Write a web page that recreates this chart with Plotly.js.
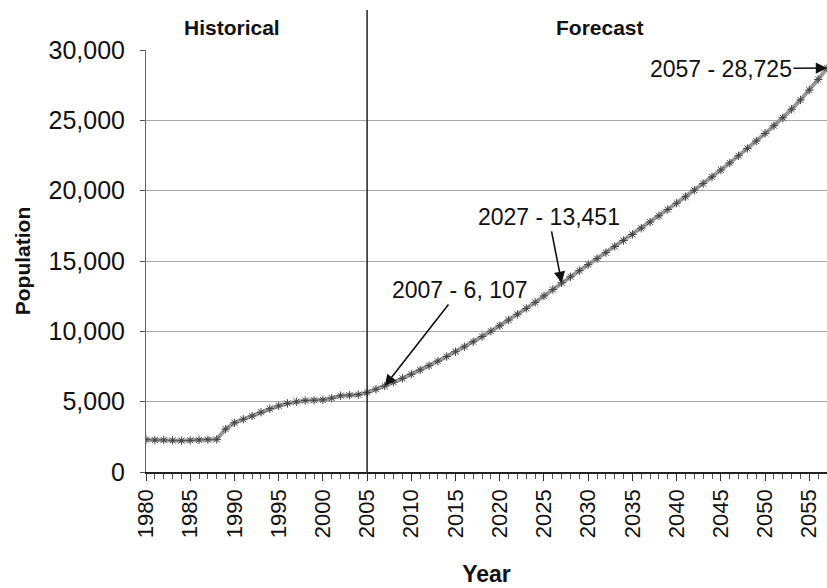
<!DOCTYPE html>
<html><head><meta charset="utf-8">
<script src="https://cdn.plot.ly/plotly-3.0.1.min.js"></script>
<style>html,body{margin:0;padding:0;background:#fff}#chart{width:827px;height:588px}</style>
</head><body><div id="chart"></div>
<script>
// Years shown on the chart (historical 1980-2005, forecast 2006-2057)
const years = [1980,1981,1982,1983,1984,1985,1986,1987,1988,1989,1990,1991,1992,1993,1994,1995,1996,1997,1998,1999,
  2000,2001,2002,2003,2004,2005,2006,2007,2008,2009,2010,2011,2012,2013,2014,2015,2016,2017,2018,2019,
  2020,2021,2022,2023,2024,2025,2026,2027,2028,2029,2030,2031,2032,2033,2034,2035,2036,2037,2038,2039,
  2040,2041,2042,2043,2044,2045,2046,2047,2048,2049,2050,2051,2052,2053,2054,2055,2056,2057];
// Population
const population = [2300,2270,2280,2250,2230,2250,2280,2300,2320,3050,3500,3750,3980,4250,4500,4700,4880,5000,5080,5100,
  5130,5250,5420,5460,5500,5650,5880,6107,6380,6660,6950,7250,7560,7880,8210,8550,8900,9260,9630,10010,
  10400,10800,11210,11630,12060,12520,12980,13451,13880,14310,14740,15170,15600,16030,16460,16890,17330,17770,18210,18660,
  19110,19570,20030,20500,20980,21470,21970,22480,23000,23530,24070,24620,25180,25790,26450,27150,27910,28725];
const xTickYears = [1980,1985,1990,1995,2000,2005,2010,2015,2020,2025,2030,2035,2040,2045,2050,2055];
const yTickValues = [0,5000,10000,15000,20000,25000,30000];
const yTickLabels = ['0','5,000','10,000','15,000','20,000','25,000','30,000'];
const dividerYear = 2005;
const sectionLabels = ['Historical','Forecast'];
const calloutYears = [2007,2027,2057];
const calloutValues = [6107,13451,28725];
const calloutTexts = ['2007 - 6, 107','2027 - 13,451','2057 - 28,725'];

const FONT = 'Liberation Sans, Arial, sans-serif';
const calloutOffsets = [[75,-96],[-13,-66],[-106,1]];

const annotations = calloutYears.map((yr,i)=>({
  x: yr, y: calloutValues[i], xref:'x', yref:'y', text: calloutTexts[i],
  showarrow:true, ax: calloutOffsets[i][0], ay: calloutOffsets[i][1],
  arrowhead:2, arrowsize:1.4, arrowwidth:1.6, arrowcolor:'#111', standoff:0,
  font:{family:FONT, size:23, color:'#111'}
}));
annotations.push(
  {xref:'paper', yref:'paper', x:0.126, y:1.054, xanchor:'center', yanchor:'middle',
   text:'<b>'+sectionLabels[0]+'</b>', showarrow:false, font:{family:FONT, size:21, color:'#111'}},
  {xref:'paper', yref:'paper', x:0.667, y:1.054, xanchor:'center', yanchor:'middle',
   text:'<b>'+sectionLabels[1]+'</b>', showarrow:false, font:{family:FONT, size:21, color:'#111'}}
);

const trace = {
  x: years, y: population, type:'scatter', mode:'lines+markers',
  line:{color:'#9a9a9a', width:4},
  marker:{symbol:'asterisk-open', size:7, color:'#444', line:{width:1, color:'#444'}},
  cliponaxis:true, hoverinfo:'skip'
};

const layout = {
  width:827, height:588,
  margin:{l:146, r:0, t:50, b:116},
  paper_bgcolor:'#fff', plot_bgcolor:'#fff',
  showlegend:false,
  font:{family:FONT, color:'#111'},
  xaxis:{
    range:[1980,2057], tickmode:'array', tickvals:xTickYears, ticktext:xTickYears.map(String),
    tickangle:-90, ticks:'outside', ticklen:7, tickcolor:'#333',
    minor:{dtick:1, tick0:1980, ticks:'outside', ticklen:5, tickcolor:'#555', showgrid:false},
    showline:true, linecolor:'#222', linewidth:1.5, showgrid:false, zeroline:false,
    tickfont:{family:FONT, size:22, color:'#111'},
    title:{text:'<b>Year</b>', font:{family:FONT, size:23, color:'#111'}, standoff:28}
  },
  yaxis:{
    range:[0,30000], tickmode:'array', tickvals:yTickValues, ticktext:yTickLabels,
    ticks:'outside', ticklen:5, tickcolor:'#555', ticklabelstandoff:10,
    showline:true, linecolor:'#666', linewidth:1,
    showgrid:true, gridcolor:'#a8a8a8', gridwidth:1, zeroline:false,
    tickfont:{family:FONT, size:25, color:'#111'},
    title:{text:'<b>Population</b>', font:{family:FONT, size:21, color:'#111'}, standoff:12}
  },
  shapes:[{type:'line', xref:'x', yref:'paper', x0:dividerYear, x1:dividerYear, y0:0, y1:1.095,
    line:{color:'#222', width:1.5}}],
  annotations: annotations
};

Plotly.newPlot('chart',[trace],layout,{staticPlot:true, displayModeBar:false});
</script>
</body></html>
